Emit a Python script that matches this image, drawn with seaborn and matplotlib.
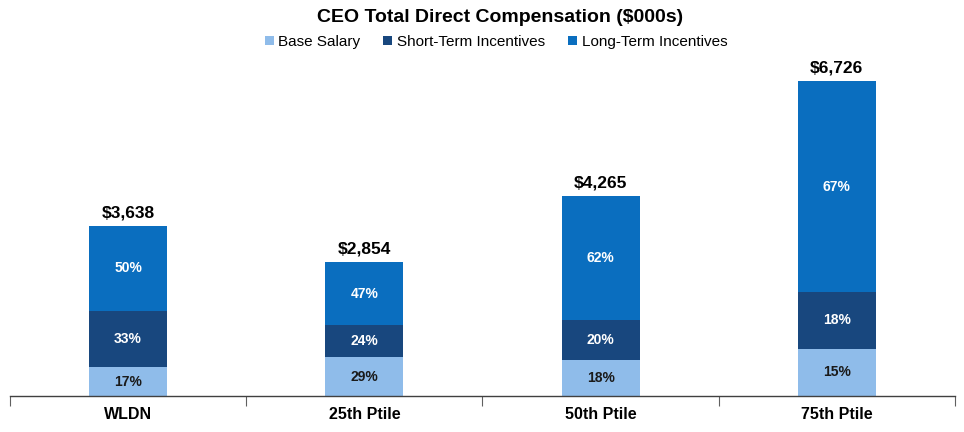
import numpy as np
import pandas as pd
import matplotlib
matplotlib.use("Agg")
import matplotlib.pyplot as plt
from matplotlib.patches import Patch
import seaborn as sns

categories = ["WLDN", "25th Ptile", "50th Ptile", "75th Ptile"]
totals = [3638, 2854, 4265, 6726]
base_pct = [17, 29, 18, 15]
sti_pct = [33, 24, 20, 18]
lti_pct = [50, 47, 62, 67]
series = ["Base Salary", "Short-Term Incentives", "Long-Term Incentives"]

colors = ["#8FBCEA", "#18477E", "#0A6EBF"]
text_colors = ["#1A1A1A", "white", "white"]

sns.set_theme(style="white")
plt.rcParams["font.family"] = ["Liberation Sans", "DejaVu Sans"]
plt.rcParams["text.color"] = "black"
plt.rcParams["xtick.color"] = "black"

df = pd.DataFrame({
    "category": categories,
    "total": totals,
    "base": np.array(totals) * np.array(base_pct) / 100,
    "sti": np.array(totals) * np.array(sti_pct) / 100,
    "lti": np.array(totals) * np.array(lti_pct) / 100,
})
df["cum_base"] = df["base"]
df["cum_sti"] = df["base"] + df["sti"]
df["cum_lti"] = df["cum_sti"] + df["lti"]

fig = plt.figure(figsize=(9.64, 4.32), dpi=100)
ax = fig.add_axes([10 / 964, 36 / 432, 945 / 964, 336 / 432])

# stacked by overlaying cumulative totals, tallest first
for col, color in zip(["cum_lti", "cum_sti", "cum_base"], colors[::-1]):
    sns.barplot(data=df, x="category", y=col, color=color, width=0.33,
                saturation=1, ax=ax, linewidth=0)

pcts = [base_pct, sti_pct, lti_pct]
lows = [np.zeros(4), df["cum_base"].values, df["cum_sti"].values]
highs = [df["cum_base"].values, df["cum_sti"].values, df["cum_lti"].values]
for k in range(3):
    for i in range(4):
        ax.text(i, (lows[k][i] + highs[k][i]) / 2, f"{pcts[k][i]}%",
                ha="center", va="center", fontsize=10, fontweight="bold",
                color=text_colors[k])

for i, t in enumerate(totals):
    ax.annotate(f"${t:,}", (i, df["cum_lti"][i]), xytext=(0, 4),
                textcoords="offset points", ha="center", va="bottom",
                fontsize=12.5, fontweight="bold", color="black")

ax.set_xlim(-0.5, 3.5)
ax.set_ylim(0, 7175)
ax.set_xlabel("")
ax.set_ylabel("")
ax.set_yticks([])
for s in ["left", "right", "top"]:
    ax.spines[s].set_visible(False)
ax.spines["bottom"].set_color("#404040")
ax.spines["bottom"].set_linewidth(1)

ax.set_xticks(range(4))
ax.set_xticklabels(categories, fontsize=11.5, fontweight="bold")
ax.tick_params(axis="x", which="major", length=0, pad=8)
ax.set_xticks([-0.5, 0.5, 1.5, 2.5, 3.5], minor=True)
ax.tick_params(axis="x", which="minor", length=7, width=0.8,
               color="#606060", direction="out", bottom=True)

fig.text(500 / 964, 1 - 17 / 432, "CEO Total Direct Compensation ($000s)",
         ha="center", va="center", fontsize=14, fontweight="bold")
handles = [Patch(facecolor=c, edgecolor="none") for c in colors]
fig.legend(handles, series, loc="center",
           bbox_to_anchor=(496 / 964, 1 - 42 / 432),
           ncol=3, frameon=False, fontsize=11, handlelength=0.6,
           handleheight=0.6, handletextpad=0.3, columnspacing=1.5)

fig.savefig("out.png", dpi=100)
